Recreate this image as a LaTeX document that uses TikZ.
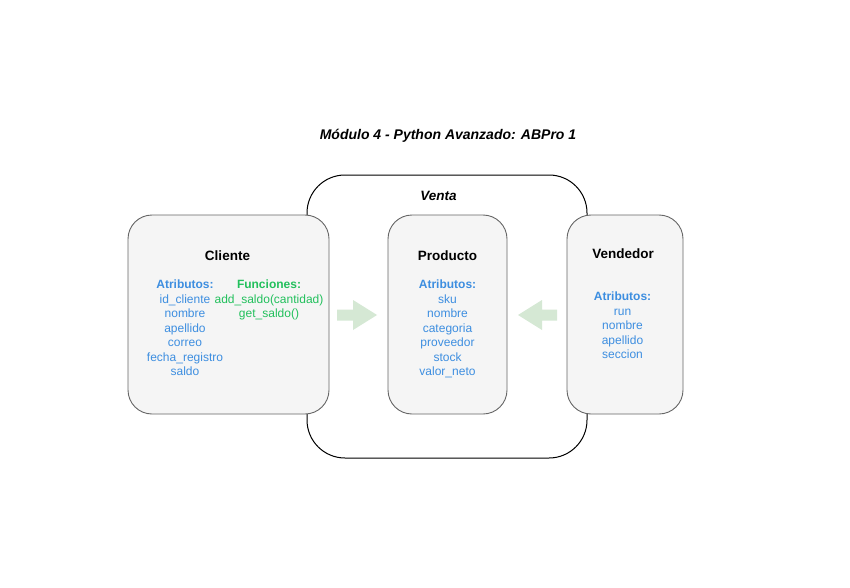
\documentclass[tikz,border=0pt]{standalone}
\usepackage{fontspec}
\setmainfont{Liberation Sans}
\definecolor{boxfill}{HTML}{F5F5F5}
\definecolor{boxline}{HTML}{666666}
\definecolor{attrblue}{HTML}{3D8EE0}
\definecolor{funcgreen}{HTML}{22C05C}
\definecolor{arrowgreen}{HTML}{D5E8D4}
\begin{document}
\begin{tikzpicture}[x=1pt,y=-1pt,
  classbox/.style={draw=boxline, fill=boxfill, line width=0.9pt, rounded corners=24pt},
  classtitle/.style={anchor=base, inner sep=0pt, font=\fontsize{13.5}{16}\selectfont\bfseries},
  attrs/.style={anchor=north, inner sep=0pt, align=center, text=attrblue, font=\fontsize{12}{14.5}\selectfont},
  funcs/.style={anchor=north, inner sep=0pt, align=center, text=funcgreen, font=\fontsize{12}{14.5}\selectfont},
  blockarrow/.style={fill=arrowgreen, draw=none}]
\useasboundingbox (0,0) rectangle (850,588);
\fill[white] (0,0) rectangle (850,588);

% title
\node[anchor=base, inner sep=0pt, font=\fontsize{14}{17}\selectfont\bfseries\itshape] (title) at (448,140) {Módulo 4 - Python Avanzado: ABPro 1};

% Venta container
\draw[black, line width=1pt, fill=white, rounded corners=38pt] (307,175) rectangle (587,458);
\node[anchor=base, inner sep=0pt, font=\fontsize{13.5}{16}\selectfont\bfseries\itshape] (venta) at (438.5,200) {Venta};

% Cliente
\draw[classbox] (128,215) rectangle (329,414);
\node[classtitle] (cliente) at (227.5,260) {Cliente};
\node[attrs] (clattr) at (185,280) {\textbf{Atributos:}\\id\_cliente\\nombre\\apellido\\correo\\fecha\_registro\\saldo};
\node[funcs] (clfunc) at (269,280) {\textbf{Funciones:}\\add\_saldo(cantidad)\\get\_saldo()};

% Producto
\draw[classbox] (388,215) rectangle (507,414);
\node[classtitle] (producto) at (447.5,260) {Producto};
\node[attrs] (prattr) at (447.5,280) {\textbf{Atributos:}\\sku\\nombre\\categoria\\proveedor\\stock\\valor\_neto};

% Vendedor
\draw[classbox] (567,215) rectangle (683,414);
\node[classtitle] (vendedor) at (623,258) {Vendedor};
\node[attrs] (veattr) at (622.5,292) {\textbf{Atributos:}\\run\\nombre\\apellido\\seccion};

% block arrows
\fill[blockarrow] (337,309.5) -- (353,309.5) -- (353,300) -- (377,315) -- (353,330) -- (353,320.5) -- (337,320.5) -- cycle;
\fill[blockarrow] (557,309.5) -- (542,309.5) -- (542,300) -- (518,315) -- (542,330) -- (542,320.5) -- (557,320.5) -- cycle;
\end{tikzpicture}
\end{document}
